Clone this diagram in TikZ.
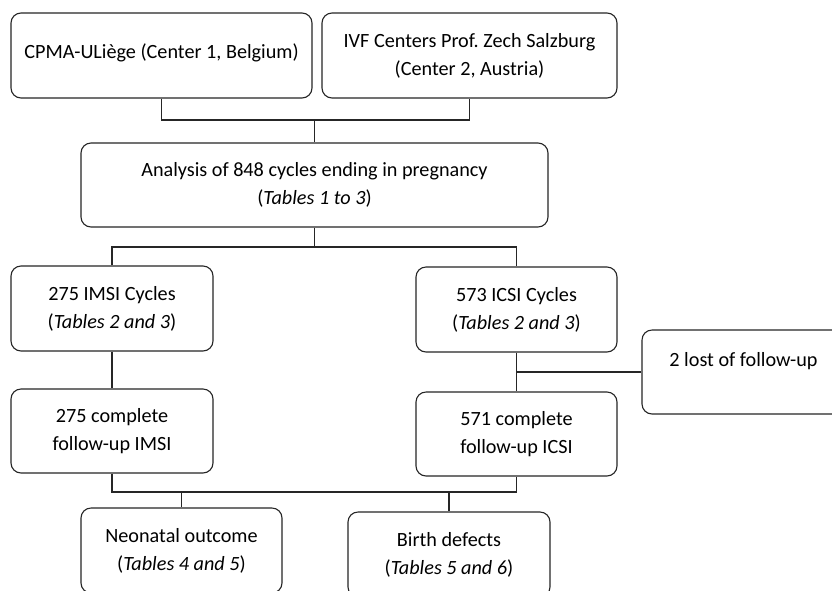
\documentclass[tikz,border=0pt]{standalone}
\usepackage{fontspec}
\setmainfont{Carlito}
\begin{document}
\frenchspacing
\begin{tikzpicture}[x=1pt,y=-1pt,
  box/.style={draw=black!85, line width=1.1pt, rounded corners=10pt, align=center,
    font=\fontsize{20.2}{28}\selectfont, inner sep=0pt},
  conn/.style={draw=black!85, line width=1.1pt}]
\clip (0,0) rectangle (832,590);
\fill[white] (0,0) rectangle (832,590);
\node[box, minimum width=301pt, minimum height=85pt, text depth=9pt] (cpma) at (161.5,55.5) {CPMA-ULiège (Center 1, Belgium)};
\node[box, minimum width=295pt, minimum height=85pt] (ivf) at (469.5,55.5) {IVF Centers Prof.\ Zech Salzburg\\(Center 2, Austria)};
\node[box, minimum width=467pt, minimum height=84pt] (ana) at (314.5,185) {Analysis of 848 cycles ending in pregnancy\\(\textit{Tables 1 to 3})};
\node[box, minimum width=202pt, minimum height=85pt] (imsi) at (112,308.5) {275 IMSI Cycles\\(\textit{Tables 2 and 3})};
\node[box, minimum width=201pt, minimum height=85pt] (icsi) at (516.5,309.5) {573 ICSI Cycles\\(\textit{Tables 2 and 3})};
\node[box, minimum width=203pt, minimum height=84pt, text depth=26pt] (lost) at (743.5,372) {2 lost of follow-up};
\node[box, minimum width=202pt, minimum height=84pt] (imc) at (112,431) {275 complete\\follow-up IMSI};
\node[box, minimum width=201pt, minimum height=84pt] (icc) at (516.5,434) {571 complete\\follow-up ICSI};
\node[box, minimum width=201pt, minimum height=85pt] (neo) at (181.5,550.5) {Neonatal outcome\\(\textit{Tables 4 and 5})};
\node[box, minimum width=202pt, minimum height=85pt] (bd) at (449,554.5) {Birth defects\\(\textit{Tables 5 and 6})};
% connectors
\coordinate (j1) at (ana.north |- 0,120);
\draw[conn] (cpma.south) |- (j1) -| (ivf.south);
\draw[conn] (j1) -- (ana.north);
\coordinate (j2) at (ana.south |- 0,247);
\draw[conn] (ana.south) -- (j2);
\draw[conn] (imsi.north) |- (j2) -| (icsi.north);
\draw[conn] (imsi.south) -- (imc.north);
\draw[conn] (icsi.south) -- (icc.north);
\coordinate (j3) at (icsi.south |- lost.west);
\draw[conn] (j3) -- (lost.west);
\coordinate (j4) at (neo.north |- 0,492);
\coordinate (j5) at (bd.north |- 0,492);
\draw[conn] (imc.south) |- (j4) -- (j5) -| (icc.south);
\draw[conn] (j4) -- (neo.north);
\draw[conn] (j5) -- (bd.north);
\end{tikzpicture}
\end{document}
